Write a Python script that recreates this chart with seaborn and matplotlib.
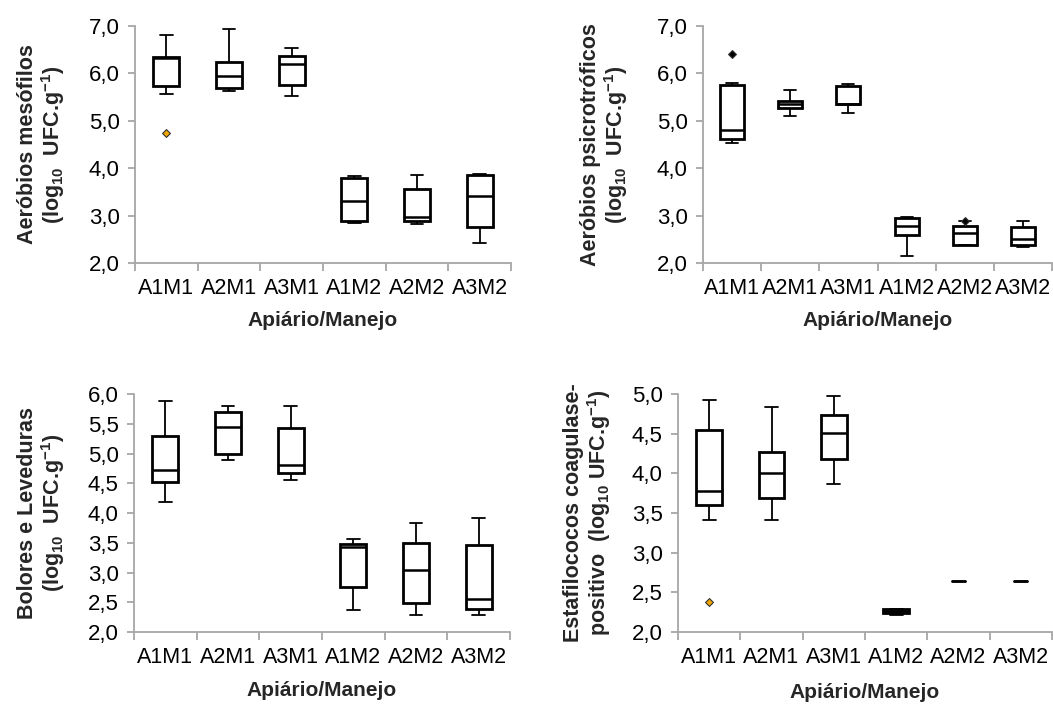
import numpy as np
import pandas as pd
import matplotlib
matplotlib.use("Agg")
import matplotlib.pyplot as plt
from matplotlib.ticker import MultipleLocator, FuncFormatter
import seaborn as sns

sns.set_theme(style="white")
plt.rcParams['font.family'] = ['Liberation Sans', 'DejaVu Sans']
plt.rcParams['mathtext.fontset'] = 'custom'
plt.rcParams['mathtext.rm'] = 'Liberation Sans'
plt.rcParams['mathtext.bf'] = 'Liberation Sans:bold'

groups = ["A1M1", "A2M1", "A3M1", "A1M2", "A2M2", "A3M2"]

# Aeróbios mesófilos: five-number summaries per group
meso_min = [5.57, 5.63, 5.53, 2.85, 2.83, 2.43]
meso_q1  = [5.73, 5.69, 5.75, 2.89, 2.89, 2.76]
meso_med = [6.33, 5.95, 6.20, 3.31, 2.98, 3.41]
meso_q3  = [6.35, 6.23, 6.36, 3.80, 3.56, 3.86]
meso_max = [6.82, 6.94, 6.54, 3.84, 3.86, 3.88]
meso_out_grp = ["A1M1"]
meso_out_val = [4.75]

# Aeróbios psicrotróficos
psic_min = [4.54, 5.11, 5.16, 2.15, 2.38, 2.33]
psic_q1  = [4.61, 5.26, 5.35, 2.59, 2.39, 2.39]
psic_med = [4.81, 5.35, 5.36, 2.79, 2.64, 2.51]
psic_q3  = [5.75, 5.42, 5.74, 2.95, 2.79, 2.77]
psic_max = [5.80, 5.66, 5.78, 2.98, 2.88, 2.89]
psic_out_grp = ["A1M1", "A2M2"]
psic_out_val = [6.40, 2.89]

# Bolores e Leveduras
bol_min = [4.18, 4.89, 4.55, 2.37, 2.28, 2.29]
bol_q1  = [4.52, 4.99, 4.67, 2.75, 2.48, 2.39]
bol_med = [4.73, 5.45, 4.80, 3.43, 3.04, 2.56]
bol_q3  = [5.30, 5.70, 5.43, 3.48, 3.49, 3.46]
bol_max = [5.88, 5.79, 5.79, 3.56, 3.83, 3.92]
bol_out_grp = []
bol_out_val = []

# Estafilococos coagulase-positivo
est_min = [3.41, 3.41, 3.86, 2.21, 2.64, 2.64]
est_q1  = [3.60, 3.69, 4.18, 2.24, 2.64, 2.64]
est_med = [3.78, 4.00, 4.51, 2.27, 2.64, 2.64]
est_q3  = [4.54, 4.27, 4.74, 2.29, 2.64, 2.64]
est_max = [4.92, 4.84, 4.97, 2.29, 2.64, 2.64]
est_out_grp = ["A1M1"]
est_out_val = [2.38]

ylabels = [
    "Aeróbios mesófilos\n(log$_{\\mathbf{10}}$  UFC.g$^{\\mathbf{-1}}$)",
    "Aeróbios psicrotróficos\n(log$_{\\mathbf{10}}$  UFC.g$^{\\mathbf{-1}}$)",
    "Bolores e Leveduras\n(log$_{\\mathbf{10}}$  UFC.g$^{\\mathbf{-1}}$)",
    "Estafilococos coagulase-\npositivo  (log$_{\\mathbf{10}}$ UFC.g$^{\\mathbf{-1}}$)",
]
xlabel = "Apiário/Manejo"

panels = [
    (meso_min, meso_q1, meso_med, meso_q3, meso_max, meso_out_grp, meso_out_val, (2, 7), 1.0, "#f0a500"),
    (psic_min, psic_q1, psic_med, psic_q3, psic_max, psic_out_grp, psic_out_val, (2, 7), 1.0, "black"),
    (bol_min, bol_q1, bol_med, bol_q3, bol_max, bol_out_grp, bol_out_val, (2, 6), 0.5, "black"),
    (est_min, est_q1, est_med, est_q3, est_max, est_out_grp, est_out_val, (2, 5), 0.5, "#f0a500"),
]

W, H = 1053, 727
# axes rectangles in pixels: left, top, right, bottom
rects = [(135, 26, 511, 263), (703, 26, 1052, 263), (134, 394, 510, 632), (678, 394, 1052, 632)]
ylab_x = [42, 605, 42, 588]
xlab_y = [321, 321, 691, 693]

fig = plt.figure(figsize=(W / 100, H / 100), dpi=100)
gray = "#a6a6a6"
fs = 15.5
BOXW = 0.41

for i, (mn, q1, md, q3, mx, og, ov, ylim, step, ocol) in enumerate(panels):
    l, t, r, b = rects[i]
    ax = fig.add_axes([l / W, 1 - b / H, (r - l) / W, (b - t) / H])
    rows = []
    for g, a, c, d, e, f in zip(groups, mn, q1, md, q3, mx):
        for v in (a, c, d, e, f):
            rows.append((g, v))
    df = pd.DataFrame(rows, columns=["grp", "val"])
    sns.boxplot(data=df, x="grp", y="val", order=groups, ax=ax, whis=(0, 100),
                width=BOXW, color="white", linecolor="black", linewidth=1.3,
                showfliers=False,
                boxprops=dict(facecolor="white", edgecolor="black", linewidth=2.0),
                medianprops=dict(color="black", linewidth=1.8),
                whiskerprops=dict(color="black", linewidth=1.3),
                capprops=dict(color="black", linewidth=1.3))
    # groups whose box collapses to a single value: show only the cap mark
    flat = [k for k in range(len(groups)) if q1[k] == q3[k] == mn[k] == mx[k]]
    for k in flat:
        for ln in ax.lines:
            xd = np.asarray(ln.get_xdata(), dtype=float)
            yd = np.asarray(ln.get_ydata(), dtype=float)
            if xd.size == 2 and np.allclose(yd, q1[k]) and abs(xd.mean() - k) < 0.01:
                if (xd.max() - xd.min()) > 0.3:
                    ln.set_visible(False)
                else:
                    ln.set_linewidth(1.8)
        for p in ax.patches:
            bb = p.get_path().get_extents(p.get_transform() - ax.transData)
            if abs(bb.x0 + bb.x1 - 2 * k) < 0.05 and bb.height < 1e-6:
                p.set_visible(False)
    if len(ov):
        odf = pd.DataFrame({"grp": og, "val": ov})
        sns.stripplot(data=odf, x="grp", y="val", order=groups, ax=ax, jitter=False,
                      marker="D", size=4, color=ocol, edgecolor="#333333", linewidth=0.8,
                      zorder=5)
    ax.set_xlim(-0.5, 5.5)
    ax.set_ylim(*ylim)
    ax.yaxis.set_major_locator(MultipleLocator(step))
    ax.yaxis.set_major_formatter(FuncFormatter(lambda v, p: f"{v:.1f}".replace(".", ",")))
    ax.set_xticks(range(len(groups)))
    ax.set_xticklabels(groups)
    ax.set_xticks(np.arange(-0.5, 6.0, 1.0), minor=True)
    ax.tick_params(axis="x", which="major", length=0, pad=11, labelsize=fs, labelcolor="black")
    ax.tick_params(axis="x", which="minor", length=6, width=1.3, color=gray, direction="out", bottom=True)
    ax.tick_params(axis="y", which="major", length=5, width=1.3, color=gray, direction="out",
                   left=True, pad=6, labelsize=fs + 0.5, labelcolor="black")
    for s in ("top", "right"):
        ax.spines[s].set_visible(False)
    for s in ("left", "bottom"):
        ax.spines[s].set_color(gray)
        ax.spines[s].set_linewidth(1.3)
    ax.set_ylabel(ylabels[i], fontsize=fs, fontweight="bold", va="center", ha="center",
                  linespacing=1.1)
    ax.yaxis.set_label_coords((ylab_x[i] - l) / (r - l), 0.5)
    ax.set_xlabel("")
    fig.text(((l + r) / 2) / W, 1 - xlab_y[i] / H, xlabel, ha="center", va="center",
             fontsize=fs - 0.5, fontweight="bold")

fig.savefig("out.png", dpi=100)
